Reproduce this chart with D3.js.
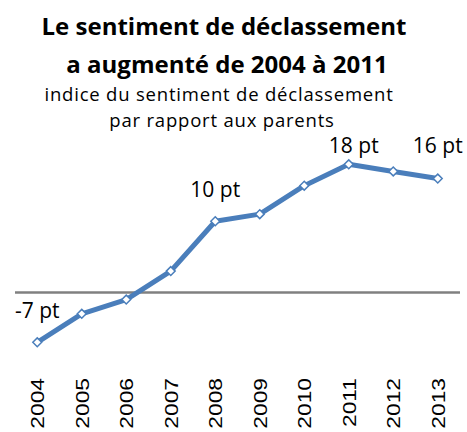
<!DOCTYPE html>
<html>
<head>
<meta charset="utf-8">
<title>Sentiment de déclassement</title>
<script src="https://d3js.org/d3.v7.min.js"></script>
<style>
  body { margin: 0; background: #fff; }
  text { font-family: "Open Sans", sans-serif; fill: #000; }
</style>
</head>
<body>
<script>
// données
var years = [2004, 2005, 2006, 2007, 2008, 2009, 2010, 2011, 2012, 2013];
var values = [-7, -3, -1, 3, 10, 11, 15, 18, 17, 16];
var labelYears = [2004, 2008, 2011, 2013];
var titleLines = ["Le sentiment de déclassement", "a augmenté de 2004 à 2011"];
var subtitleLines = ["indice du sentiment de déclassement", "par rapport aux parents"];

var width = 467, height = 432;

var svg = d3.select("body").append("svg")
    .attr("width", width)
    .attr("height", height);

var x = d3.scalePoint()
    .domain(years)
    .range([15, 460])
    .padding(0.5);

var y = d3.scaleLinear()
    .domain([-7, 18])
    .range([342.3, 164.3]);

// titre
svg.append("g").selectAll("text")
    .data(titleLines)
    .enter().append("text")
    .attr("x", function(d, i) { return i ? 227 : 224; })
    .attr("y", function(d, i) { return 35 + i * 38; })
    .attr("text-anchor", "middle")
    .style("font-size", "24px")
    .style("font-weight", "bold")
    .text(function(d) { return d; });

svg.append("g").selectAll("text")
    .data(subtitleLines)
    .enter().append("text")
    .attr("x", function(d, i) { return i ? 222 : 219; })
    .attr("y", function(d, i) { return 101 + i * 25.5; })
    .attr("text-anchor", "middle")
    .style("font-size", "18.5px")
    .style("letter-spacing", "0.8px")
    .text(function(d) { return d; });

// ligne du zéro
svg.append("line")
    .attr("x1", 15).attr("x2", 460)
    .attr("y1", y(0)).attr("y2", y(0))
    .attr("stroke", "#808080")
    .attr("stroke-width", 2.5);

// axe des années
var xAxis = svg.append("g")
    .attr("transform", "translate(0,378)")
    .call(d3.axisBottom(x).tickSize(0).tickPadding(0));
xAxis.select(".domain").remove();
xAxis.selectAll("text")
    .attr("transform", "rotate(-90) scale(1.2,1)")
    .attr("x", 0)
    .attr("y", 0)
    .attr("dy", "0.35em")
    .attr("text-anchor", "end")
    .style("font-family", "'Liberation Sans', Arial, sans-serif")
    .style("font-size", "19px")
    .style("fill", "#000");

var data = years.map(function(d, i) { return {year: d, value: values[i]}; });

var line = d3.line()
    .x(function(d) { return x(d.year); })
    .y(function(d) { return y(d.value); });

svg.append("path")
    .datum(data)
    .attr("d", line)
    .attr("fill", "none")
    .attr("stroke", "#4a7ebb")
    .attr("stroke-width", 5)
    .attr("stroke-linejoin", "round");

// marqueurs en losange
svg.append("g").selectAll("path")
    .data(data)
    .enter().append("path")
    .attr("d", d3.symbol().type(d3.symbolDiamond2).size(50))
    .attr("transform", function(d) { return "translate(" + x(d.year) + "," + y(d.value) + ")"; })
    .attr("fill", "#fff")
    .attr("stroke", "#4a7ebb")
    .attr("stroke-width", 1.5);

// étiquettes
var offsets = {2004: -24, 2008: -24, 2011: -11, 2013: -26};
svg.append("g").selectAll("text")
    .data(data.filter(function(d) { return labelYears.indexOf(d.year) >= 0; }))
    .enter().append("text")
    .attr("x", function(d) { return x(d.year) + (d.year === 2011 ? 5 : 0); })
    .attr("y", function(d) { return y(d.value) + offsets[d.year]; })
    .attr("text-anchor", "middle")
    .style("font-size", "21px")
    .text(function(d) { return d.value + " pt"; });
</script>
</body>
</html>
